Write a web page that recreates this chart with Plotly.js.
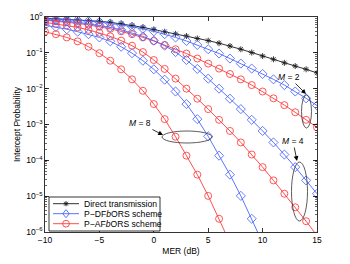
<!DOCTYPE html>
<html>
<head>
<meta charset="utf-8">
<script src="https://cdn.plot.ly/plotly-3.0.1.min.js"></script>
<style>
html,body{margin:0;padding:0;background:#fff;}
#chart{width:350px;height:264px;}
</style>
</head>
<body>
<div id="chart"></div>
<script>
// MER (dB)
var merDb = [-10,-9,-8,-7,-6,-5,-4,-3,-2,-1,0,1,2,3,4,5,6,7,8,9,10,11,12,13,14,15];

// Intercept probability
var directTx = [0.93,0.90,0.87,0.83,0.79,0.76,0.71,0.65,0.575,0.513,0.447,0.389,0.339,0.295,0.251,0.219,0.186,0.155,0.126,0.102,0.0813,0.0661,0.0525,0.0427,0.0347,0.0275];

var dfM2 = [0.891,0.871,0.841,0.813,0.767,0.724,0.661,0.603,0.537,0.468,0.398,0.331,0.269,0.214,0.166,0.126,0.0955,0.0692,0.0501,0.0363,0.0257,0.0182,0.0126,0.00832,0.00537,0.00339];
var afM2 = [0.813,0.767,0.724,0.661,0.603,0.537,0.468,0.398,0.331,0.269,0.214,0.166,0.126,0.0955,0.0692,0.0501,0.0363,0.0257,0.0182,0.0126,0.00832,0.00537,0.00347,0.00219,0.00135,0.000832];

var dfM4 = [0.841,0.804,0.759,0.708,0.646,0.589,0.513,0.437,0.363,0.288,0.219,0.158,0.105,0.0631,0.0355,0.0191,0.0100,0.00525,0.00269,0.00135,6.61e-4,3.16e-4,1.45e-4,6.46e-5,2.75e-5,1.17e-5];
var afM4 = [0.708,0.646,0.589,0.513,0.437,0.363,0.288,0.219,0.158,0.105,0.0631,0.0355,0.0191,0.0100,0.00525,0.00269,0.00135,6.61e-4,3.16e-4,1.45e-4,6.46e-5,2.75e-5,1.17e-5,4.90e-6,2.00e-6,7.94e-7];

var dfM8 = [0.589,0.525,0.457,0.389,0.331,0.269,0.209,0.148,0.0977,0.0603,0.0347,0.0178,0.00832,0.00372,0.00141,4.68e-4,1.35e-4,3.98e-5,1.02e-5,2.34e-6,5.01e-7,null,null,null,null,null];
var afM8 = [0.389,0.331,0.269,0.209,0.148,0.0977,0.0603,0.0347,0.0182,0.00871,0.00372,0.00141,4.57e-4,1.35e-4,3.98e-5,1.02e-5,2.34e-6,5.01e-7,null,null,null,null,null,null,null,null];

var yTickVals = [1,0.1,0.01,0.001,1e-4,1e-5,1e-6];
var yTickText = ['10<sup>0</sup>','10<sup>\u22121</sup>','10<sup>\u22122</sup>','10<sup>\u22123</sup>','10<sup>\u22124</sup>','10<sup>\u22125</sup>','10<sup>\u22126</sup>'];
var xTickVals = [-10,-5,0,5,10,15];

var legendNames = ['Direct transmission','P\u2212DF<i>b</i>ORS scheme','P\u2212AF<i>b</i>ORS scheme'];

var BLACK = '#1a1a1a', BLUE = '#4a64ff', RED = '#ff3a3a';
var FONT = 'Liberation Sans, Arial, Helvetica, sans-serif';

function tr(y, color, symbol, size) {
  return {
    x: merDb, y: y, type: 'scatter', mode: 'lines+markers',
    line: {color: color, width: 0.9},
    marker: {symbol: symbol, size: size, color: color, line: {color: color, width: 0.85}},
    showlegend: false, hoverinfo: 'skip', connectgaps: false
  };
}

var data = [
  tr(directTx, BLACK, 'asterisk-open', 5),
  tr(dfM2, BLUE, 'diamond-open', 7),
  tr(afM2, RED, 'circle-open', 7),
  tr(dfM4, BLUE, 'diamond-open', 7),
  tr(afM4, RED, 'circle-open', 7),
  tr(dfM8, BLUE, 'diamond-open', 7),
  tr(afM8, RED, 'circle-open', 7)
];

// paper-coordinate helpers (plot area 272 x 215 px, left 45, bottom 232)
function px(v){ return (v-45)/272; }
function py(v){ return (232-v)/215; }

var shapes = [];
// ellipses
shapes.push({type:'circle', xref:'paper', yref:'paper', x0:px(301.5), x1:px(311.5), y0:py(128), y1:py(95), line:{color:'#333', width:0.8}});
shapes.push({type:'circle', xref:'paper', yref:'paper', x0:px(291.5), x1:px(307.5), y0:py(221), y1:py(162), line:{color:'#333', width:0.8}});
shapes.push({type:'circle', xref:'paper', yref:'paper', x0:px(162), x1:px(212), y0:py(143), y1:py(131), line:{color:'#333', width:0.8}});

// legend box
shapes.push({type:'rect', xref:'paper', yref:'paper', x0:px(49), x1:px(160), y0:py(231), y1:py(197), line:{color:'#000', width:0.8}, fillcolor:'#fff', layer:'above'});
var rows = [203.7, 213.7, 223.7];
var cols = [BLACK, BLUE, RED];
rows.forEach(function(r, i){
  shapes.push({type:'line', xref:'paper', yref:'paper', x0:px(53), x1:px(79), y0:py(r), y1:py(r), line:{color:cols[i], width:0.9}, layer:'above'});
});
// legend symbols
var cx = 66;
// asterisk
(function(){
  var r = rows[0], a = 2.6, d = 1.9;
  var p = 'M'+px(cx-a)+','+py(r)+' L'+px(cx+a)+','+py(r)+
          ' M'+px(cx)+','+py(r-a)+' L'+px(cx)+','+py(r+a)+
          ' M'+px(cx-d)+','+py(r-d)+' L'+px(cx+d)+','+py(r+d)+
          ' M'+px(cx-d)+','+py(r+d)+' L'+px(cx+d)+','+py(r-d);
  shapes.push({type:'path', xref:'paper', yref:'paper', path:p, line:{color:BLACK, width:0.9}, layer:'above'});
})();
// diamond
(function(){
  var r = rows[1], dx = 3.3, dy = 4;
  var p = 'M'+px(cx)+','+py(r-dy)+' L'+px(cx+dx)+','+py(r)+' L'+px(cx)+','+py(r+dy)+' L'+px(cx-dx)+','+py(r)+' Z';
  shapes.push({type:'path', xref:'paper', yref:'paper', path:p, line:{color:BLUE, width:0.9}, fillcolor:'rgba(0,0,0,0)', layer:'above'});
})();
// circle
shapes.push({type:'circle', xref:'paper', yref:'paper', x0:px(cx-3.4), x1:px(cx+3.4), y0:py(rows[2]+3.4), y1:py(rows[2]-3.4), line:{color:RED, width:0.9}, layer:'above'});

var annotations = [];
legendNames.forEach(function(n, i){
  annotations.push({xref:'paper', yref:'paper', x:px(82), y:py(rows[i]), text:n, showarrow:false, xanchor:'left', yanchor:'middle', font:{family:FONT, size:8.6, color:'#000'}});
});
// M labels with arrows
function mLabel(txt, tx, ty, hx, hy){
  return {xref:'paper', yref:'paper', x:px(hx), y:py(hy), text:txt, showarrow:true,
          ax: tx-hx, ay: ty-hy, arrowhead:2, arrowsize:1.2, arrowwidth:0.8, arrowcolor:'#000',
          font:{family:FONT, size:8.5, color:'#000'}, standoff:0, startstandoff:0};
}
annotations.push(mLabel('<i>M</i> = 2', 289, 77, 306, 94));
annotations.push(mLabel('<i>M</i> = 4', 293, 141, 297, 161));
annotations.push(mLabel('<i>M</i> = 8', 140, 123, 163, 135));

var layout = {
  width: 350, height: 264,
  margin: {l:45, r:33, t:17, b:32},
  paper_bgcolor:'#fff', plot_bgcolor:'#fff',
  font: {family: FONT, size: 8.5, color:'#000'},
  showlegend: false,
  xaxis: {
    range: [-10, 15], tickmode:'array', tickvals: xTickVals,
    ticks:'inside', ticklen:4, tickwidth:0.8, tickcolor:'#000',
    showline:true, linecolor:'#000', linewidth:0.8, mirror:'ticks',
    showgrid:false, zeroline:false,
    tickfont:{family:FONT, size:8.5},
    title:{text:'MER (dB)', font:{family:FONT, size:8.5}, standoff:3}
  },
  yaxis: {
    type:'log', range:[-6, 0], tickmode:'array', tickvals: yTickVals, ticktext: yTickText,
    ticks:'inside', ticklen:4, tickwidth:0.8, tickcolor:'#000',
    showline:true, linecolor:'#000', linewidth:0.8, mirror:'ticks',
    showgrid:false, zeroline:false,
    minor:{ticks:'inside', ticklen:2, tickwidth:0.6, tickcolor:'#000', dtick:'D1', showgrid:false},
    tickfont:{family:FONT, size:8.5},
    title:{text:'Intercept Probability', font:{family:FONT, size:8.5}, standoff:4}
  },
  shapes: shapes,
  annotations: annotations
};

Plotly.newPlot('chart', data, layout, {staticPlot:true, displayModeBar:false});
</script>
</body>
</html>
